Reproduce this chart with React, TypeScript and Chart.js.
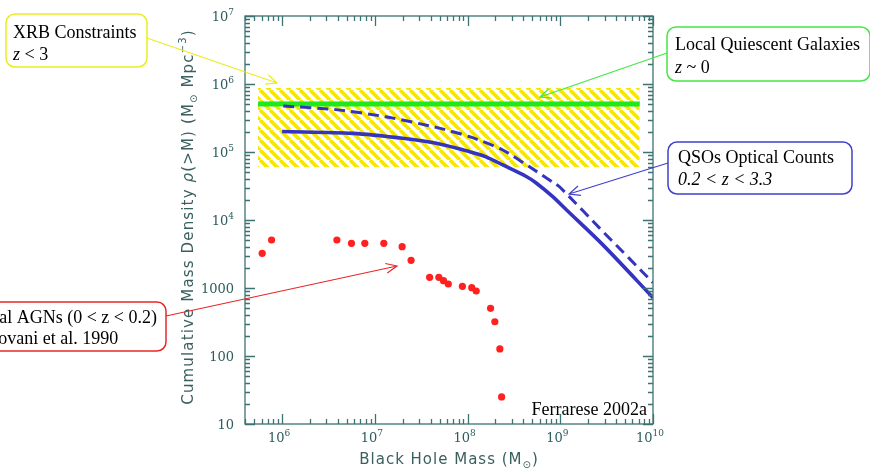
import React, { useEffect, useRef } from "react";
import { Chart, registerables } from "chart.js";
Chart.register(...registerables);

// ---------- data ----------
const xTickValues = [1e6, 1e7, 1e8, 1e9, 1e10];
const xTickLabels = ["10⁶", "10⁷", "10⁸", "10⁹", "10¹⁰"];
const yTickValues = [10, 100, 1000, 1e4, 1e5, 1e6, 1e7];
const yTickLabels = ["10", "100", "1000", "10⁴", "10⁵", "10⁶", "10⁷"];

// Local AGNs (Padovani et al. 1990)
const agnMass = [6.1e5, 7.7e5, 3.9e6, 5.6e6, 7.8e6, 1.25e7, 1.97e7, 2.46e7, 3.9e7, 4.9e7, 5.5e7, 6.2e7, 8.8e7, 1.11e8, 1.24e8, 1.77e8, 1.97e8, 2.23e8, 2.33e8];
const agnDensity = [3240, 5080, 5080, 4540, 4540, 4540, 4050, 2550, 1435, 1435, 1280, 1145, 1060, 1010, 903, 502, 319, 127, 25];

// QSOs optical counts (solid)
const qsoSolidMass = [1e6, 5.8e6, 2.0e7, 4.6e7, 1.05e8, 1.58e8, 2.4e8, 4.3e8, 5.5e8, 8.3e8, 1.17e9, 2.9e9, 1e10];
const qsoSolidDensity = [2.0e5, 1.88e5, 1.59e5, 1.34e5, 1.01e5, 8.5e4, 6.45e4, 4.36e4, 3.5e4, 2.2e4, 1.4e4, 4270, 720];

// QSOs optical counts (dashed)
const qsoDashMass = [1.03e6, 3.8e6, 1.3e7, 4.6e7, 1.05e8, 2.4e8, 4.7e8, 8.3e8, 1e9, 3e9, 1e10];
const qsoDashDensity = [4.75e5, 4.2e5, 3.3e5, 2.3e5, 1.68e5, 1.07e5, 6.0e4, 3.6e4, 3.0e4, 6.4e3, 1200];

// Local quiescent galaxies
const quiescentMass = [5.5e5, 7.2e9];
const quiescentDensity = [5.1e5, 5.1e5];

// XRB constraints band
const xrbMass = [5.5e5, 7.2e9];
const xrbTop = [8.7e5, 8.7e5];
const xrbBottom = 6.0e4;

const xMin = 3.98e5;
const xMax = 1e10;
const yMin = 10;
const yMax = 1e7;

const axisColor = "#3d7272";
const tickTextColor = "#2e5d5d";

type Seg = { t: string; size: number; dy?: number; italic?: boolean; family?: string };

function drawSegs(ctx: CanvasRenderingContext2D, segs: Seg[], x: number, y: number, family: string, align: "left" | "center" | "right", spacing = 0) {
  const fontOf = (s: Seg) => `${s.italic ? "italic " : ""}${s.size}px ${s.family || family}`;
  let total = 0;
  ctx.save();
  (ctx as any).letterSpacing = spacing + "px";
  for (const s of segs) {
    ctx.font = fontOf(s);
    total += ctx.measureText(s.t).width;
  }
  let cx = align === "left" ? x : align === "center" ? x - total / 2 : x - total;
  ctx.textAlign = "left";
  ctx.textBaseline = "alphabetic";
  for (const s of segs) {
    ctx.font = fontOf(s);
    ctx.fillText(s.t, cx, y + (s.dy || 0));
    cx += ctx.measureText(s.t).width;
  }
  ctx.restore();
}

const supMap: Record<string, string> = { "⁰": "0", "¹": "1", "²": "2", "³": "3", "⁴": "4", "⁵": "5", "⁶": "6", "⁷": "7", "⁸": "8", "⁹": "9" };

function tickSegs(label: string): Seg[] {
  let base = "";
  let sup = "";
  for (const ch of label) {
    if (supMap[ch]) sup += supMap[ch];
    else base += ch;
  }
  const segs: Seg[] = [{ t: base, size: 13 }];
  if (sup) segs.push({ t: sup, size: 9, dy: -6 });
  return segs;
}

function arrow(ctx: CanvasRenderingContext2D, x1: number, y1: number, x2: number, y2: number, color: string) {
  ctx.save();
  ctx.strokeStyle = color;
  ctx.lineWidth = 1.2;
  ctx.beginPath();
  ctx.moveTo(x1, y1);
  ctx.lineTo(x2, y2);
  const a = Math.atan2(y2 - y1, x2 - x1);
  const L = 12;
  const w = 0.42;
  ctx.moveTo(x2 - L * Math.cos(a - w), y2 - L * Math.sin(a - w));
  ctx.lineTo(x2, y2);
  ctx.lineTo(x2 - L * Math.cos(a + w), y2 - L * Math.sin(a + w));
  ctx.stroke();
  ctx.restore();
}

function box(ctx: CanvasRenderingContext2D, x: number, y: number, w: number, h: number, color: string) {
  ctx.save();
  ctx.strokeStyle = color;
  ctx.lineWidth = 1.5;
  ctx.fillStyle = "#ffffff";
  ctx.beginPath();
  (ctx as any).roundRect(x, y, w, h, 9);
  ctx.fill();
  ctx.stroke();
  ctx.restore();
}

const decorPlugin = {
  id: "decor",
  afterDraw(chart: any) {
    const ctx: CanvasRenderingContext2D = chart.ctx;
    const { left, right, top, bottom } = chart.chartArea;
    const xs = chart.scales.x;
    const ys = chart.scales.y;

    // frame
    ctx.save();
    ctx.strokeStyle = axisColor;
    ctx.lineWidth = 1.3;
    ctx.strokeRect(left, top, right - left, bottom - top);
    ctx.beginPath();
    for (let d = 5; d <= 10; d++) {
      for (let m = 1; m <= 9; m++) {
        const v = m * Math.pow(10, d);
        if (v < xMin || v > xMax * 1.0001) continue;
        const px = Math.round(xs.getPixelForValue(v)) + 0.5;
        const len = m === 1 ? 10 : 5;
        ctx.moveTo(px, bottom);
        ctx.lineTo(px, bottom - len);
        ctx.moveTo(px, top);
        ctx.lineTo(px, top + len);
      }
    }
    for (let d = 1; d <= 7; d++) {
      for (let m = 1; m <= 9; m++) {
        const v = m * Math.pow(10, d);
        if (v < yMin || v > yMax * 1.0001) continue;
        const py = Math.round(ys.getPixelForValue(v)) + 0.5;
        const len = m === 1 ? 10 : 5;
        ctx.moveTo(left, py);
        ctx.lineTo(left + len, py);
        ctx.moveTo(right, py);
        ctx.lineTo(right - len, py);
      }
    }
    ctx.stroke();
    ctx.restore();

    // tick labels
    ctx.save();
    ctx.fillStyle = tickTextColor;
    xTickValues.forEach((v, i) => {
      const px = xs.getPixelForValue(v);
      drawSegs(ctx, tickSegs(xTickLabels[i]), px - 3, bottom + 18, "DejaVu Serif", "center");
    });
    yTickValues.forEach((v, i) => {
      const py = ys.getPixelForValue(v);
      drawSegs(ctx, tickSegs(yTickLabels[i]), left - 11, py + 5, "DejaVu Serif", "right");
    });
    ctx.restore();

    // axis titles
    ctx.save();
    ctx.fillStyle = "#3a5f5f";
    drawSegs(
      ctx,
      [
        { t: "Black Hole Mass (M", size: 15 },
        { t: "⊙", size: 10, dy: 4 },
        { t: ")", size: 15 },
      ],
      449,
      464,
      "DejaVu Sans",
      "center",
      1
    );
    ctx.translate(193, 217);
    ctx.rotate(-Math.PI / 2);
    drawSegs(
      ctx,
      [
        { t: "Cumulative Mass Density ", size: 15 },
        { t: "ρ", size: 15, italic: true },
        { t: "(>M) (M", size: 15 },
        { t: "⊙", size: 10, dy: 4 },
        { t: " Mpc", size: 15 },
        { t: "−3", size: 10, dy: -7 },
        { t: ")", size: 15 },
      ],
      0,
      0,
      "DejaVu Sans",
      "center",
      1.15
    );
    ctx.restore();

    // Ferrarese label
    ctx.save();
    ctx.fillStyle = "#000";
    drawSegs(ctx, [{ t: "Ferrarese 2002a", size: 18 }], 647, 415, "Liberation Serif", "right");
    ctx.restore();

    // callouts
    const serif = "Liberation Serif";
    arrow(ctx, 147, 38, 277, 83, "#ecec20");
    box(ctx, 6, 14, 141, 53, "#ecec20");
    ctx.fillStyle = "#000";
    drawSegs(ctx, [{ t: "XRB Constraints", size: 18 }], 13, 38, serif, "left");
    drawSegs(ctx, [{ t: "z", size: 18, italic: true }, { t: " < 3", size: 18 }], 13, 60, serif, "left");

    arrow(ctx, 667, 53, 540, 97, "#44e844");
    box(ctx, 667, 27, 203, 54, "#44e844");
    ctx.fillStyle = "#000";
    drawSegs(ctx, [{ t: "Local Quiescent Galaxies", size: 18 }], 675, 50, serif, "left");
    drawSegs(ctx, [{ t: "z", size: 18, italic: true }, { t: " ~ 0", size: 18 }], 675, 73, serif, "left");

    arrow(ctx, 668, 163, 569, 194, "#4040cc");
    box(ctx, 668, 142, 184, 52, "#4040cc");
    ctx.fillStyle = "#000";
    drawSegs(ctx, [{ t: "QSOs Optical Counts", size: 18 }], 678, 163, serif, "left");
    drawSegs(ctx, [{ t: "0.2 < z < 3.3", size: 18, italic: true }], 678, 185, serif, "left");

    arrow(ctx, 166, 316, 397, 266, "#e82828");
    box(ctx, -20, 302, 186, 49, "#e82828");
    ctx.fillStyle = "#000";
    ctx.save();
    ctx.font = `18px ${serif}`;
    const w1 = ctx.measureText("Local AGNs (0 < z < 0.2)").width;
    ctx.restore();
    const x0 = 157 - w1;
    drawSegs(ctx, [{ t: "Local AGNs (0 < z < 0.2)", size: 18 }], x0, 323, serif, "left");
    drawSegs(ctx, [{ t: "Padovani et al. 1990", size: 18 }], x0, 344, serif, "left");
  },
};

function makePattern(): CanvasPattern | string {
  const pc = document.createElement("canvas");
  pc.width = 10;
  pc.height = 10;
  const p = pc.getContext("2d");
  if (!p) return "#f5e800";
  p.fillStyle = "#ffffff";
  p.fillRect(0, 0, 10, 10);
  p.strokeStyle = "#f7e600";
  p.lineWidth = 3.6;
  p.beginPath();
  for (const k of [-10, 0, 10]) {
    p.moveTo(k, 0);
    p.lineTo(k + 10, 10);
  }
  p.stroke();
  const pat = p.createPattern(pc, "repeat");
  return pat || "#f5e800";
}

export default function App() {
  const ref = useRef<HTMLCanvasElement | null>(null);
  useEffect(() => {
    if (!ref.current) return;
    const pattern = makePattern();
    const chart = new Chart(ref.current, {
      type: "line",
      data: {
        datasets: [
          {
            type: "scatter",
            label: "Local AGNs",
            data: agnMass.map((x, i) => ({ x, y: agnDensity[i] })),
            backgroundColor: "#ff2020",
            borderWidth: 0,
            pointRadius: 3.6,
            showLine: false,
          } as any,
          {
            label: "QSOs solid",
            data: qsoSolidMass.map((x, i) => ({ x, y: qsoSolidDensity[i] })),
            borderColor: "#3434c0",
            borderWidth: 3.6,
            pointRadius: 0,
            tension: 0.3,
            fill: false,
          },
          {
            label: "QSOs dashed",
            data: qsoDashMass.map((x, i) => ({ x, y: qsoDashDensity[i] })),
            borderColor: "#3434c0",
            borderWidth: 3,
            borderDash: [11, 6],
            pointRadius: 0,
            tension: 0.25,
            fill: false,
          },
          {
            label: "Local Quiescent Galaxies",
            data: quiescentMass.map((x, i) => ({ x, y: quiescentDensity[i] })),
            borderColor: "#1fe81f",
            borderWidth: 5,
            pointRadius: 0,
            fill: false,
          },
          {
            label: "XRB Constraints",
            data: xrbMass.map((x, i) => ({ x, y: xrbTop[i] })),
            borderWidth: 0,
            borderColor: "rgba(0,0,0,0)",
            backgroundColor: pattern as any,
            pointRadius: 0,
            fill: { target: { value: xrbBottom } },
          } as any,
        ],
      },
      options: {
        animation: false,
        responsive: false,
        layout: { padding: { left: 0, top: 16, right: 217, bottom: 0 } },
        plugins: { legend: { display: false }, tooltip: { enabled: false } },
        scales: {
          x: {
            type: "logarithmic",
            min: xMin,
            max: xMax,
            grid: { display: false },
            border: { display: false },
            afterBuildTicks: (s: any) => {
              s.ticks = xTickValues.map((v) => ({ value: v }));
            },
            afterFit: (s: any) => {
              s.height = 44;
            },
            ticks: { display: false },
          },
          y: {
            type: "logarithmic",
            min: yMin,
            max: yMax,
            grid: { display: false },
            border: { display: false },
            afterBuildTicks: (s: any) => {
              s.ticks = yTickValues.map((v) => ({ value: v }));
            },
            afterFit: (s: any) => {
              s.width = 245;
            },
            ticks: { display: false },
          },
        },
      },
      plugins: [decorPlugin],
    });
    return () => chart.destroy();
  }, []);
  return (
    <div style={{ position: "absolute", left: 0, top: 0, width: 870, height: 468, background: "#fff" }}>
      <canvas ref={ref} width={870} height={468} style={{ display: "block" }} />
    </div>
  );
}
